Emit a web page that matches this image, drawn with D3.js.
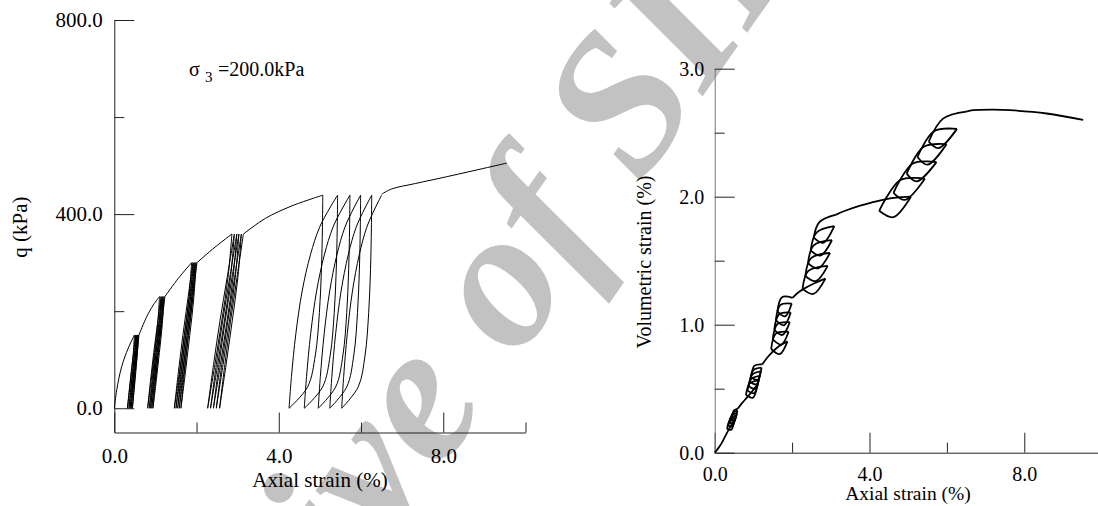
<!DOCTYPE html>
<html>
<head>
<meta charset="utf-8">
<script src="https://cdn.jsdelivr.net/npm/d3@7"></script>
<style>
  html, body { margin: 0; padding: 0; background: #fff; }
  svg { display: block; font-family: "Liberation Serif", "Times New Roman", serif; }
</style>
</head>
<body>
<svg id="chart" width="1098" height="506"></svg>
<script>
// ---------------- test data ----------------
// Deviator stress held at each cyclic stage (kPa)
const stageStress = [151, 230, 300, 359, 439];

// Axial strain (%) at each return to the stage stress (last entry: where loading resumes on the envelope)
const peakStrain = [
  [0.49, 0.52, 0.545, 0.565, 0.585, 0.60],
  [1.10, 1.135, 1.16, 1.185, 1.21, 1.23],
  [1.88, 1.91, 1.94, 1.965, 1.99, 2.01],
  [2.86, 2.92, 2.98, 3.03, 3.09, 3.14],
  [5.07, 5.43, 5.73, 5.99, 6.26, 6.50]
];
// Axial strain (%) left after each full unloading to q = 0
const residualStrain = [
  [0.32, 0.355, 0.385, 0.41, 0.44],
  [0.81, 0.85, 0.88, 0.91, 0.94],
  [1.46, 1.50, 1.54, 1.58, 1.62],
  [2.27, 2.34, 2.41, 2.48, 2.56],
  [4.25, 4.62, 4.96, 5.24, 5.53]
];

// Monotonic loading branches of the q - axial strain curve [strain %, q kPa]
const qEnvelope = [
  [[0, 0], [0.06, 38], [0.18, 86], [0.34, 124], [0.49, 151]],
  [[0.60, 151], [0.79, 189], [0.95, 213], [1.10, 230]],
  [[1.23, 230], [1.56, 268], [1.88, 300]],
  [[2.01, 300], [2.45, 332], [2.86, 359]],
  [[3.14, 359], [3.67, 391], [4.32, 417], [5.07, 439]],
  [[6.50, 441], [6.75, 452], [7.32, 463], [8.08, 477], [9.54, 505]]
];

// Unload / reload branch shapes: [fraction of strain span, fraction of stage stress]
const stiffUnload = [[1, 1], [0.84, 0.75], [0.58, 0.5], [0.3, 0.25], [0, 0]];
const stiffReload = [[0, 0], [0.22, 0.25], [0.46, 0.5], [0.73, 0.75], [1, 1]];
const softUnload = [[1, 1], [0.99, 0.85], [0.96, 0.65], [0.9, 0.45], [0.78, 0.25], [0.55, 0.1], [0, 0]];
const softReload = [[0, 0], [0.05, 0.15], [0.14, 0.35], [0.27, 0.55], [0.44, 0.72], [0.63, 0.85], [0.84, 0.94], [1, 1]];

// Volumetric strain (%) at the stage peaks and at the unloaded state
const peakVol = [
  [0.245, 0.27, 0.29, 0.31, 0.33, 0.345],
  [0.53, 0.565, 0.60, 0.635, 0.665, 0.69],
  [0.87, 0.945, 1.02, 1.095, 1.165, 1.21],
  [1.36, 1.46, 1.56, 1.66, 1.77, 1.86],
  [2.00, 2.14, 2.27, 2.41, 2.53, 2.665]
];
const residualVol = [
  [0.185, 0.21, 0.235, 0.255, 0.275],
  [0.45, 0.485, 0.52, 0.555, 0.59],
  [0.81, 0.885, 0.96, 1.035, 1.105],
  [1.28, 1.38, 1.48, 1.58, 1.68],
  [1.89, 2.03, 2.18, 2.31, 2.43]
];
// Lowest point of each unloading branch [axial strain, volumetric strain]
const troughStrain = [
  [0.43, 0.46, 0.485, 0.51, 0.53],
  [0.99, 1.02, 1.05, 1.08, 1.11],
  [1.68, 1.72, 1.75, 1.79, 1.82],
  [2.55, 2.61, 2.67, 2.73, 2.80],
  [4.62, 4.92, 5.22, 5.50, 5.78]
];
const troughVol = [
  [0.18, 0.205, 0.23, 0.25, 0.27],
  [0.43, 0.465, 0.50, 0.535, 0.57],
  [0.77, 0.845, 0.92, 0.995, 1.065],
  [1.24, 1.34, 1.44, 1.54, 1.64],
  [1.84, 1.975, 2.12, 2.25, 2.38]
];
// Bend of each reloading branch [axial strain, volumetric strain]
const bendStrain = [
  [0.38, 0.41, 0.44, 0.47, 0.50],
  [0.90, 0.94, 0.97, 1.00, 1.03],
  [1.58, 1.62, 1.66, 1.70, 1.74],
  [2.42, 2.49, 2.56, 2.63, 2.70],
  [4.80, 5.12, 5.40, 5.66, 5.90]
];
const bendVol = [
  [0.245, 0.27, 0.29, 0.31, 0.33],
  [0.54, 0.575, 0.61, 0.645, 0.68],
  [0.93, 1.005, 1.08, 1.155, 1.215],
  [1.42, 1.52, 1.62, 1.72, 1.80],
  [2.13, 2.26, 2.39, 2.51, 2.61]
];

// Monotonic loading branches of the volumetric curve [axial strain %, volumetric strain %]
const volEnvelope = [
  [[0, 0], [0.08, 0.03], [0.18, 0.075], [0.30, 0.145], [0.40, 0.20], [0.49, 0.245]],
  [[0.60, 0.345], [0.70, 0.385], [0.83, 0.43], [0.97, 0.48], [1.10, 0.53]],
  [[1.23, 0.69], [1.35, 0.74], [1.47, 0.78], [1.65, 0.83], [1.88, 0.87]],
  [[2.01, 1.21], [2.15, 1.25], [2.30, 1.28], [2.55, 1.32], [2.86, 1.36]],
  [[3.14, 1.86], [3.37, 1.89], [3.76, 1.93], [4.06, 1.955], [4.40, 1.98], [4.75, 1.995], [5.07, 2.0]],
  [[6.50, 2.665], [6.68, 2.676], [7.2, 2.68], [7.63, 2.676], [8.58, 2.65], [9.52, 2.60]]
];

// Axis ticks
const strainMajor = [0, 4, 8];
const strainMinor = [2, 6, 10];
const strainLabels = ["0.0", "4.0", "8.0"];
const qMajor = [0, 400, 800];
const qMinor = [200, 600];
const qLabels = ["0.0", "400.0", "800.0"];
const volMajor = [0, 1, 2, 3];
const volMinor = [0.5, 1.5, 2.5];
const volLabels = ["0.0", "1.0", "2.0", "3.0"];

// ---------------- drawing ----------------
const svg = d3.select("#chart");

// faint background stamp
svg.append("text")
  .attr("transform", "translate(428,385) rotate(-55)")
  .attr("text-anchor", "middle")
  .attr("dy", "0.3em")
  .style("font-family", "'Liberation Serif', serif")
  .style("font-style", "italic")
  .style("font-weight", "bold")
  .style("font-size", "198px")
  .attr("fill", "#c2c2c2")
  .text("Archive of SID");

function drawAxes(g, x, y, opt) {
  const xb = g.append("g").attr("transform", `translate(0,${opt.xAxisY})`).style("color", "#222");
  xb.call(d3.axisBottom(x).tickValues(strainMajor).tickFormat((d, i) => strainLabels[i])
      .tickSizeInner(-20).tickSizeOuter(0).tickPadding(opt.xPad));
  xb.append("g").call(d3.axisBottom(x).tickValues(strainMinor).tickFormat("")
      .tickSizeInner(-10).tickSizeOuter(0)).select(".domain").remove();
  xb.selectAll("text").style("font-family", "'Liberation Serif', serif").style("font-size", opt.fs + "px").attr("fill", "#000");

  const yb = g.append("g").attr("transform", `translate(${opt.yAxisX},0)`).style("color", "#222");
  yb.call(d3.axisLeft(y).tickValues(opt.yMajor).tickFormat((d, i) => opt.yLabels[i])
      .tickSizeInner(-20).tickSizeOuter(0).tickPadding(opt.yPad));
  yb.append("g").call(d3.axisLeft(y).tickValues(opt.yMinor).tickFormat("")
      .tickSizeInner(-10).tickSizeOuter(0)).select(".domain").remove();
  yb.selectAll("text").style("font-family", "'Liberation Serif', serif").style("font-size", opt.fs + "px").attr("fill", "#000");
  yb.select(".domain").attr("stroke", opt.yDomainColor);
  g.selectAll(".domain, .tick line").attr("stroke-width", 1);
}

// ---- left panel: q vs axial strain ----
const xL = d3.scaleLinear().domain([0, 10]).range([114.3, 525.5]);
const yL = d3.scaleLinear().domain([-50, 800]).range([432.5, 20]);
const gL = svg.append("g");
drawAxes(gL, xL, yL, { xAxisY: 432.5, yAxisX: 114.3, xPad: 15.5, yPad: 11.5, fs: 21,
  yMajor: qMajor, yMinor: qMinor, yLabels: qLabels, yDomainColor: "#222" });

const lineL = d3.line().x(d => xL(d[0])).y(d => yL(d[1])).curve(d3.curveCatmullRom.alpha(0.5));
const curvesL = gL.append("g").attr("fill", "none").attr("stroke", "#000").attr("stroke-width", 1);
qEnvelope.forEach(seg => curvesL.append("path").attr("d", lineL(seg)));
stageStress.forEach((qs, s) => {
  const unload = s < 4 ? stiffUnload : softUnload;
  const reload = s < 4 ? stiffReload : softReload;
  residualStrain[s].forEach((er, k) => {
    const ep = peakStrain[s][k], en = peakStrain[s][k + 1];
    curvesL.append("path").attr("d", lineL(unload.map(([f, h]) => [er + f * (ep - er), h * qs])));
    curvesL.append("path").attr("d", lineL(reload.map(([f, h]) => [er + f * (en - er), h * qs])));
  });
});

gL.append("text").attr("x", 320).attr("y", 487).attr("text-anchor", "middle")
  .style("font-size", "21px").text("Axial strain (%)");
gL.append("text").attr("transform", "translate(27,227) rotate(-90)").attr("text-anchor", "middle")
  .style("font-size", "21px").text("q (kPa)");
const ann = gL.append("text").attr("y", 76).style("font-size", "20px");
ann.append("tspan").attr("x", 189).text("σ");
ann.append("tspan").attr("x", 205).attr("dy", 6).style("font-size", "15px").text("3");
ann.append("tspan").attr("x", 218).attr("dy", -6).text("=200.0kPa");

// ---- right panel: volumetric strain vs axial strain ----
const xR = d3.scaleLinear().domain([0, 10]).range([714.7, 1101.7]);
const yR = d3.scaleLinear().domain([0, 3]).range([452.7, 68.7]);
const gR = svg.append("g");
drawAxes(gR, xR, yR, { xAxisY: 452.7, yAxisX: 714.7, xPad: 14, yPad: 10.5, fs: 20,
  yMajor: volMajor, yMinor: volMinor, yLabels: volLabels, yDomainColor: "#777" });

const lineR = d3.line().x(d => xR(d[0])).y(d => yR(d[1])).curve(d3.curveCatmullRom.alpha(0.5));
const curvesR = gR.append("g").attr("fill", "none").attr("stroke", "#000").attr("stroke-width", 1.8)
  .attr("stroke-linejoin", "round");
volEnvelope.forEach(seg => curvesR.append("path").attr("d", lineR(seg)));
residualStrain.forEach((row, s) => {
  row.forEach((er, k) => {
    const peak = [peakStrain[s][k], peakVol[s][k]];
    const next = [peakStrain[s][k + 1], peakVol[s][k + 1]];
    const res = [er, residualVol[s][k]];
    curvesR.append("path").attr("d", lineR([peak, [troughStrain[s][k], troughVol[s][k]], res]));
    curvesR.append("path").attr("d", lineR([res, [bendStrain[s][k], bendVol[s][k]], next]));
  });
});

gR.append("text").attr("x", 908).attr("y", 500).attr("text-anchor", "middle")
  .style("font-size", "19.5px").text("Axial strain (%)");
gR.append("text").attr("transform", "translate(651,262) rotate(-90)").attr("text-anchor", "middle")
  .style("font-size", "20px").text("Volumetric strain (%)");
</script>
</body>
</html>
